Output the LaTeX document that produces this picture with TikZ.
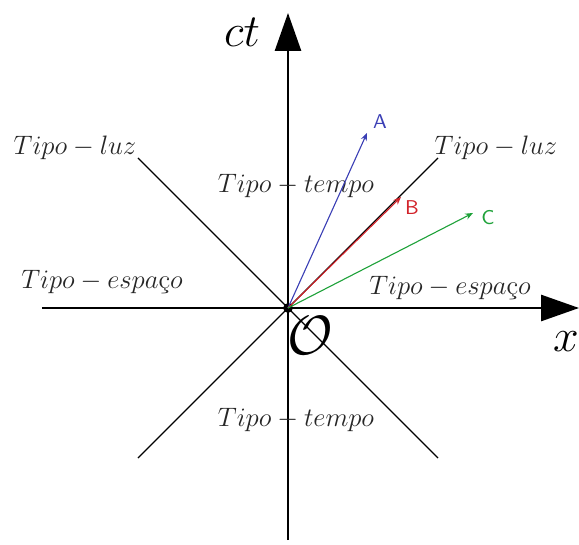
\documentclass[tikz,border=0pt]{standalone}
\usepackage{tikz}
\usetikzlibrary{positioning,arrows.meta}
\definecolor{VecBlue}{HTML}{3B3FB5}
\definecolor{VecRed}{HTML}{D2232A}
\definecolor{VecGreen}{HTML}{1FA23A}

\begin{document}
\begin{tikzpicture}[x=0.45pt, y=0.45pt,
  axis/.style={line width=1pt, -{Triangle[width=11.7pt, length=17pt]}},
  cone/.style={line width=0.6pt},
  vec/.style={line width=0.5pt, -{Stealth[length=3.5pt, width=2.8pt]}},
  region/.style={font=\large, text=black!85, inner sep=0pt},
  tag/.style={font=\small\sffamily, inner sep=0pt}]
  \useasboundingbox (-288,-236) rectangle (291,308);
  % axes and light cone
  \coordinate (o) at (0,0);
  \coordinate (xs) at (-246,0);
  \coordinate (xe) at (291,0);
  \coordinate (ts) at (0,-232);
  \coordinate (te) at (0,295);
  \coordinate (ul) at (-150,150);
  \coordinate (ur) at (150,150);
  \coordinate (ll) at (-150,-150);
  \coordinate (lr) at (150,-150);
  \draw[cone] (ul) -- (lr);
  \draw[cone] (ur) -- (ll);
  \draw[axis] (xs) -- (xe);
  \draw[axis] (ts) -- (te);
  \fill (o) circle (2.2pt);
  % labels
  \node[font=\huge] (ct) at (-46,276) {$ct$};
  \node[font=\huge] (xl) at (278,-34) {$x$};
  \node[font=\Huge] (orig) at (22,-28) {$\mathcal{O}$};
  \node[region] (luzL) at (-213,160) {$Tipo-luz$};
  \node[region] (luzR) at (208,160) {$Tipo-luz$};
  \node[region] (tempoT) at (8,122) {$Tipo-tempo$};
  \node[region] (tempoB) at (8,-112) {$Tipo-tempo$};
  \node[region] (espL) at (-186,26) {$Tipo-espa\mbox{\c{c}}o$};
  \node[region] (espR) at (162,20) {$Tipo-espa\mbox{\c{c}}o$};
  % events
  \coordinate (a) at (79,175);
  \coordinate (b) at (113,111);
  \coordinate (c) at (185,95);
  \draw[vec, VecBlue] (o) -- (a);
  \draw[vec, VecRed] (o) -- (b);
  \draw[vec, VecGreen] (o) -- (c);
  \node[tag, text=VecBlue] (la) at (92,186) {A};
  \node[tag, text=VecRed] (lb) at (124,100) {B};
  \node[tag, text=VecGreen] (lc) at (200,90) {C};
\end{tikzpicture}
\end{document}
